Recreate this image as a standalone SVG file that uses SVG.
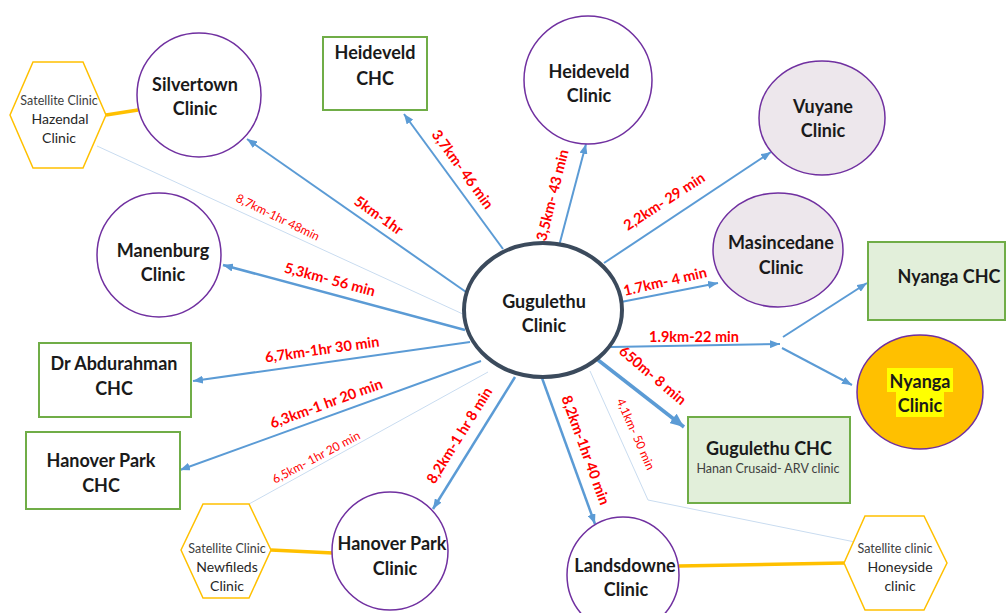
<svg xmlns="http://www.w3.org/2000/svg" width="1006" height="613" viewBox="0 0 1006 613">
<style>
.bg{fill:#ffffff}
.clinic{fill:#ffffff;stroke:#7030a0;stroke-width:1.5}
.clinic2{fill:#ede7ec;stroke:#7030a0;stroke-width:1.5}
.chc{fill:#ffffff;stroke:#70ad47;stroke-width:2}
.chc2{fill:#e2efda;stroke:#70ad47;stroke-width:2}
.hex{fill:#ffffff;stroke:#ffc000;stroke-width:1.5}
.t{font-family:Lato,"Open Sans","Liberation Sans",sans-serif;font-weight:bold;font-size:18px;fill:#1a1a1a;text-anchor:middle}
.s{font-family:Lato,"Open Sans","Liberation Sans",sans-serif;font-size:12.5px;fill:#404040;text-anchor:middle}
.m{font-family:Lato,"Open Sans","Liberation Sans",sans-serif;font-size:14px;fill:#262626;text-anchor:middle}
.c{stroke:#5b9bd5;stroke-width:2;fill:none}
.ck{stroke:#5b9bd5;stroke-width:3.5;fill:none}
.cl{stroke:#c9dcf0;stroke-width:1;fill:none}
.y{stroke:#ffc000;stroke-width:3.5;fill:none}
.l{font-family:Lato,"Open Sans","Liberation Sans",sans-serif;font-weight:bold;font-size:14.5px;fill:#ff0000;text-anchor:middle;dominant-baseline:central}
.ls{font-family:Lato,"Open Sans","Liberation Sans",sans-serif;font-size:12px;fill:#ff0000;text-anchor:middle;dominant-baseline:central}
</style>
<defs>
<marker id="arr" markerUnits="userSpaceOnUse" markerWidth="10" markerHeight="8" refX="10" refY="4" orient="auto"><path d="M0,0 L10,4 L0,8 z" fill="#5b9bd5"/></marker>
<marker id="arrk" markerUnits="userSpaceOnUse" markerWidth="14" markerHeight="12" refX="14" refY="6" orient="auto"><path d="M0,0 L14,6 L0,12 z" fill="#5b9bd5"/></marker>
</defs>
<rect class="bg" x="0" y="0" width="1006" height="613"/>

<g id="connectors">
<line class="cl" x1="97" y1="146" x2="465" y2="315"/>
<line class="cl" x1="249" y1="504" x2="488" y2="372"/>
<polyline class="cl" points="590,371 648,500 855,542"/>
<line class="y" x1="106" y1="115" x2="138" y2="110"/>
<line class="y" x1="271" y1="550" x2="333" y2="553"/>
<line class="y" x1="679" y1="566" x2="844" y2="563"/>
<line class="c" x1="466" y1="292" x2="247" y2="139" marker-end="url(#arr)"/>
<line class="c" x1="503" y1="249" x2="404" y2="114" marker-end="url(#arr)"/>
<line class="c" x1="559" y1="246" x2="586" y2="144" marker-end="url(#arr)"/>
<line class="c" x1="604" y1="263" x2="771" y2="152" marker-end="url(#arr)"/>
<line class="c" x1="621" y1="302" x2="718" y2="283" marker-end="url(#arr)"/>
<line class="c" x1="611" y1="347" x2="780" y2="344" marker-end="url(#arr)"/>
<line class="c" x1="783" y1="337" x2="867" y2="283" marker-end="url(#arr)"/>
<line class="c" x1="782" y1="348" x2="852" y2="385" marker-end="url(#arr)"/>
<line class="ck" x1="598" y1="360" x2="684" y2="427" marker-end="url(#arrk)"/>
<line class="c" style="stroke-width:2.5" x1="542" y1="378" x2="595" y2="524" marker-end="url(#arr)"/>
<line class="c" style="stroke-width:2.5" x1="515" y1="377" x2="433" y2="509" marker-end="url(#arr)"/>
<line class="c" x1="481" y1="361" x2="180" y2="470" marker-end="url(#arr)"/>
<line class="c" x1="470" y1="342" x2="193" y2="381" marker-end="url(#arr)"/>
<line class="c" style="stroke-width:2.5" x1="465" y1="330" x2="223" y2="265" marker-end="url(#arr)"/>
<text class="l" x="379" y="215" transform="rotate(35 379 215)">5km-1hr</text>
<text class="l" x="463" y="169" transform="rotate(54 463 169)">3,7km- 46 min</text>
<text class="l" x="552" y="195" transform="rotate(-76 552 195)">3,5km- 43 min</text>
<text class="l" x="664" y="201" transform="rotate(-33 664 201)">2,2km- 29 min</text>
<text class="l" x="665" y="281" transform="rotate(-13 665 281)">1.7km- 4 min</text>
<text class="l" x="694" y="336">1.9km-22 min</text>
<text class="l" x="653" y="375" transform="rotate(40 653 375)">650m- 8 min</text>
<text class="ls" x="636" y="434" transform="rotate(66 636 434)">4,1km- 50 min</text>
<text class="l" x="586" y="450" transform="rotate(70 586 450)">8,2km-1hr 40 min</text>
<text class="l" x="459" y="435" transform="rotate(-58 459 435)">8,2km-1 hr 8 min</text>
<text class="l" x="326" y="403" transform="rotate(-20 326 403)">6,3km-1 hr 20 min</text>
<text class="l" x="322" y="349" transform="rotate(-8 322 349)">6,7km-1hr 30 min</text>
<text class="l" x="330" y="279" transform="rotate(15 330 279)">5,3km- 56 min</text>
<text class="ls" x="278" y="217" transform="rotate(26 278 217)">8,7km-1hr 48min</text>
<text class="ls" x="316" y="457" transform="rotate(-28 316 457)">6,5km- 1hr 20 min</text>
</g>

<g id="gugulethu-clinic">
<ellipse cx="543" cy="310" rx="79" ry="67" fill="#ffffff" stroke="#3b4a5c" stroke-width="4"/>
<text class="t" x="544" y="308">Gugulethu</text>
<text class="t" x="544" y="332">Clinic</text>
</g>

<g id="silvertown-clinic">
<circle class="clinic" cx="199" cy="95" r="62"/>
<text class="t" x="195" y="91">Silvertown</text>
<text class="t" x="195" y="115">Clinic</text>
</g>

<g id="hazendal-clinic">
<polygon class="hex" points="10,115 33,62 83,62 106,115 83,168 33,168"/>
<text class="s" x="59" y="105">Satellite Clinic</text>
<text class="m" x="60" y="124">Hazendal</text>
<text class="m" x="59" y="143">Clinic</text>
</g>

<g id="heideveld-chc">
<rect class="chc" x="323" y="37" width="104" height="73"/>
<text class="t" x="375" y="59">Heideveld</text>
<text class="t" x="375" y="85">CHC</text>
</g>

<g id="heideveld-clinic">
<circle class="clinic" cx="588" cy="80" r="64"/>
<text class="t" x="589" y="78">Heideveld</text>
<text class="t" x="589" y="102">Clinic</text>
</g>

<g id="vuyane-clinic">
<ellipse class="clinic2" cx="822" cy="118" rx="63" ry="57"/>
<text class="t" x="823" y="113">Vuyane</text>
<text class="t" x="823" y="137">Clinic</text>
</g>

<g id="masincedane-clinic">
<ellipse class="clinic2" cx="778" cy="250" rx="65" ry="57"/>
<text class="t" x="781" y="249">Masincedane</text>
<text class="t" x="781" y="274">Clinic</text>
</g>

<g id="nyanga-chc">
<rect class="chc2" x="868" y="242" width="137" height="78"/>
<text class="t" x="949" y="283">Nyanga CHC</text>
</g>

<g id="nyanga-clinic">
<ellipse cx="920" cy="392" rx="63" ry="57" fill="#ffc000" stroke="#7030a0" stroke-width="1.5"/>
<rect x="887" y="368" width="66" height="24" fill="#ffff00"/>
<rect x="896" y="392" width="48" height="25" fill="#ffff00"/>
<text class="t" x="920" y="388">Nyanga</text>
<text class="t" x="920" y="412">Clinic</text>
</g>

<g id="gugulethu-chc">
<rect class="chc2" x="688" y="417" width="162" height="86"/>
<text class="t" x="769" y="455">Gugulethu CHC</text>
<text class="s" x="768" y="473">Hanan Crusaid- ARV clinic</text>
</g>

<g id="landsdowne-clinic">
<ellipse class="clinic" cx="623" cy="575" rx="56" ry="58"/>
<text class="t" x="625" y="572">Landsdowne</text>
<text class="t" x="626" y="596">Clinic</text>
</g>

<g id="honeyside-clinic">
<polygon class="hex" points="844,563 865,516 924,516 947,563 924,610 865,610"/>
<text class="s" x="895" y="553">Satellite clinic</text>
<text class="m" x="900" y="572">Honeyside</text>
<text class="m" x="900" y="591">clinic</text>
</g>

<g id="hanover-park-clinic">
<ellipse class="clinic" cx="390" cy="551" rx="58" ry="59"/>
<text class="t" x="392" y="550">Hanover Park</text>
<text class="t" x="395" y="575">Clinic</text>
</g>

<g id="newfileds-clinic">
<polygon class="hex" points="181,550 203,504 249,504 271,550 249,598 203,598"/>
<text class="s" x="227" y="553">Satellite Clinic</text>
<text class="m" x="227" y="572">Newfileds</text>
<text class="m" x="227" y="591">Clinic</text>
</g>

<g id="manenburg-clinic">
<circle class="clinic" cx="159" cy="255" r="62"/>
<text class="t" x="163" y="257">Manenburg</text>
<text class="t" x="163" y="281">Clinic</text>
</g>

<g id="dr-abdurahman-chc">
<rect class="chc" x="39" y="343" width="152" height="74"/>
<text class="t" x="114" y="370">Dr Abdurahman</text>
<text class="t" x="114" y="395">CHC</text>
</g>

<g id="hanover-park-chc">
<rect class="chc" x="26" y="432" width="154" height="77"/>
<text class="t" x="101" y="467">Hanover Park</text>
<text class="t" x="101" y="492">CHC</text>
</g>
</svg>
